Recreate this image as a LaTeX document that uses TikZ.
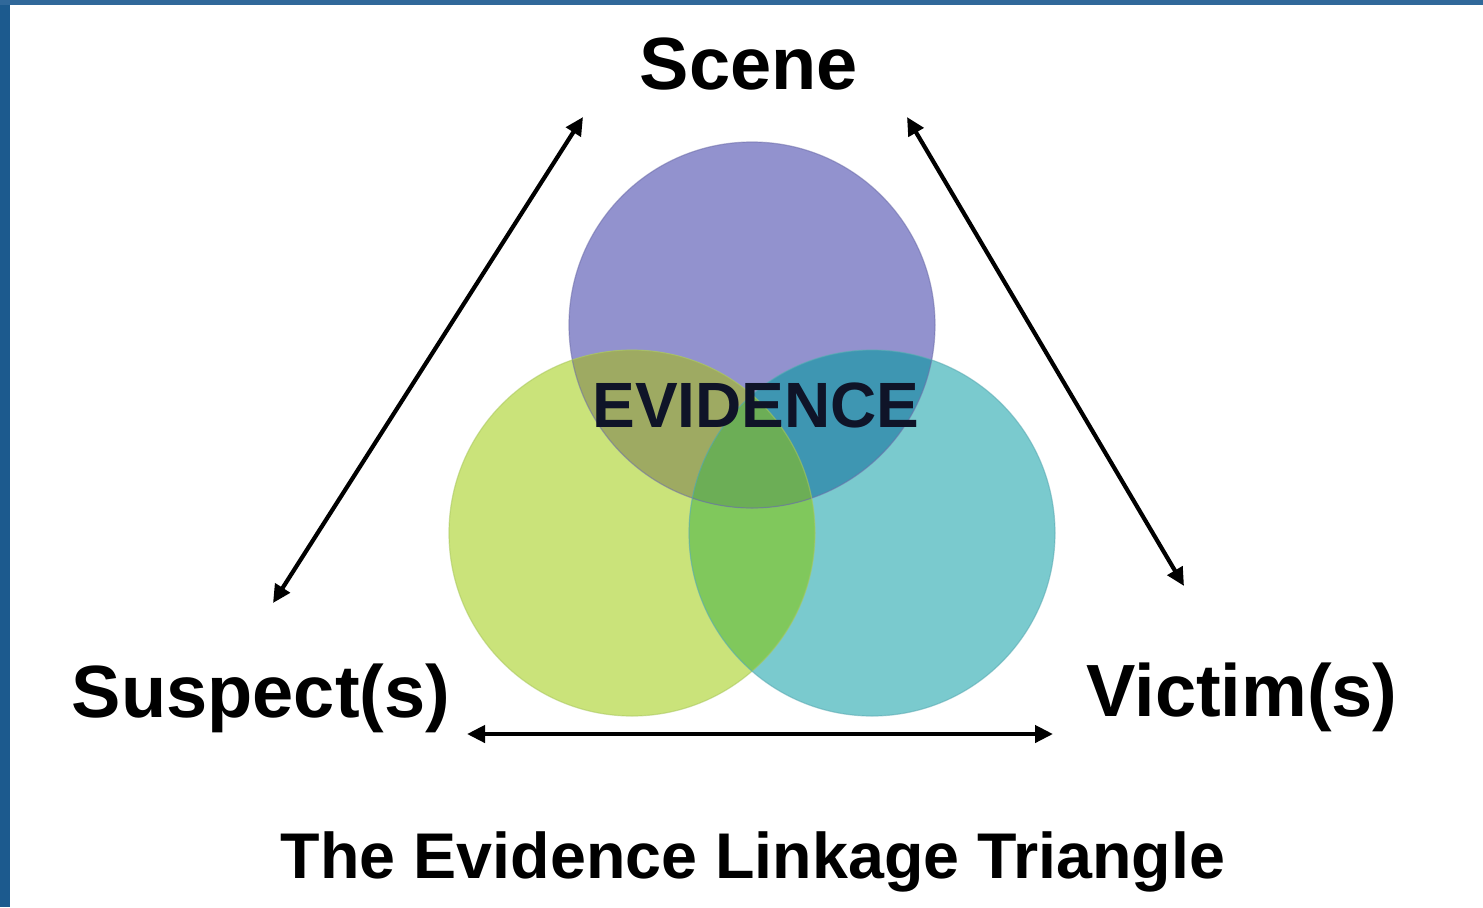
\documentclass[tikz,border=0pt]{standalone}
\usepackage{fontspec}
\setmainfont{Liberation Sans}
\usetikzlibrary{arrows.meta,positioning}

\definecolor{frameblue}{RGB}{28,90,142}
\definecolor{topblue}{RGB}{48,104,154}
\definecolor{scenefill}{RGB}{146,146,206}
\definecolor{suspfill}{RGB}{202,227,122}
\definecolor{victfill}{RGB}{122,202,206}
\definecolor{scenesusp}{RGB}{158,170,98}
\definecolor{scenevict}{RGB}{62,150,178}
\definecolor{suspvict}{RGB}{128,200,92}
\definecolor{allthree}{RGB}{108,174,86}
\definecolor{evidtext}{RGB}{15,20,40}

\begin{document}
\begin{tikzpicture}[
    x=0.5pt, y=-0.5pt,
    label/.style={font=\bfseries\fontsize{37}{40}\selectfont, inner sep=0pt, anchor=base},
    caption/.style={font=\bfseries\fontsize{32.3}{36}\selectfont, inner sep=0pt, anchor=base},
    evid/.style={caption, font=\bfseries\fontsize{32}{36}\selectfont, text=evidtext},
    ring/.style={draw opacity=0.55, line width=0.6pt},
    arrow/.style={{Triangle[length=9pt,width=8.5pt]}-{Triangle[length=9pt,width=8.5pt]}, line width=2.1pt, black}
]
    % page and frame
    \fill[white] (0,0) rectangle (1483,907);
    \useasboundingbox (0,0) rectangle (1483,907);
    \fill[frameblue] (0,0) rectangle (10,907);
    \fill[topblue] (0,0) rectangle (1483,5);

    % circle centres
    \coordinate (scenec) at (752,325);
    \coordinate (suspc) at (632,533);
    \coordinate (victc) at (872,533);

    \fill[scenefill] (scenec) circle[radius=91.5pt];
    \fill[suspfill] (suspc) circle[radius=91.5pt];
    \fill[victfill] (victc) circle[radius=91.5pt];
    \begin{scope}
        \clip (suspc) circle[radius=91.5pt];
        \fill[suspvict] (victc) circle[radius=91.5pt];
    \end{scope}
    \begin{scope}
        \clip (scenec) circle[radius=91.5pt];
        \fill[scenesusp] (suspc) circle[radius=91.5pt];
        \fill[scenevict] (victc) circle[radius=91.5pt];
        \clip (suspc) circle[radius=91.5pt];
        \fill[allthree] (victc) circle[radius=91.5pt];
    \end{scope}
    \draw[ring, draw={rgb,255:red,110;green,110;blue,170}] (scenec) circle[radius=91.5pt];
    \draw[ring, draw={rgb,255:red,170;green,200;blue,95}] (suspc) circle[radius=91.5pt];
    \draw[ring, draw={rgb,255:red,90;green,170;blue,178}] (victc) circle[radius=91.5pt];

    % labels
    \node[label] (scene) at (749,89) {Scene};
    \node[label] (suspect) at (261,717) {Suspect(s)};
    \node[label] (victim) at (1242,716) {Victim(s)};
    \node[evid] (evidence) at (756,427) {EVIDENCE};
    \node[caption] (title) at (753,878) {The Evidence Linkage Triangle};

    % arrow ends
    \coordinate (sceneleft) at (583,117);
    \coordinate (suspecttop) at (273,603);
    \coordinate (sceneright) at (907,117);
    \coordinate (victimtop) at (1184,586);
    \coordinate (suspectright) at (467,734);
    \coordinate (victimleft) at (1053,734);

    \draw[arrow] (suspecttop) -- (sceneleft);
    \draw[arrow] (sceneright) -- (victimtop);
    \draw[arrow] (suspectright) -- (victimleft);
\end{tikzpicture}
\end{document}
